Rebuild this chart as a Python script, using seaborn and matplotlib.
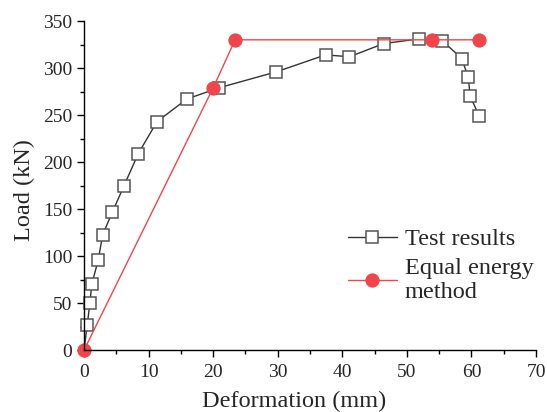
import numpy as np
import pandas as pd
import matplotlib
matplotlib.use('Agg')
import matplotlib.pyplot as plt
import seaborn as sns

# test curve
test_def = [0.0, 0.5, 0.9, 1.2, 2.2, 2.9, 4.4, 6.2, 8.4, 11.3, 15.9, 20.9, 29.8,
            37.4, 41.1, 46.4, 51.9, 55.5, 58.5, 59.5, 59.8, 61.2]
test_load = [0, 27, 50, 70, 96, 123, 147, 175, 209, 243, 267, 279, 296,
             314, 312, 326, 331, 329, 310, 290, 270, 249]

# equal energy method idealisation
eq_def = [0.0, 20.0, 23.4, 53.9, 61.2]
eq_load = [0, 279, 330, 330, 330]

sns.set_style('ticks')
plt.rcParams['font.family'] = ['Liberation Serif', 'DejaVu Serif']

fig = plt.figure(figsize=(5.47, 4.12), dpi=100)
ax = fig.add_axes([0.1536, 0.150, 0.8264, 0.799])

# origin square is hidden under the red dot in the original
sns.lineplot(x=test_def, y=test_load, sort=False, ax=ax, color='#333333', lw=1.0,
             marker='s', markersize=8.5, markerfacecolor='white',
             markeredgecolor='#555555', markeredgewidth=1.1, label='Test results',
             markevery=list(range(1, len(test_def))), clip_on=False)
sns.lineplot(x=eq_def, y=eq_load, sort=False, ax=ax, color='#f0454a', lw=1.0,
             marker='o', markersize=9.5, markerfacecolor='#f0454a',
             markeredgecolor='#f0454a', label='Equal energy\nmethod',
             clip_on=False)

ax.set_xlim(0, 70)
ax.set_ylim(0, 350)
ax.set_xticks(np.arange(0, 71, 10))
ax.set_yticks(np.arange(0, 351, 50))
ax.set_xticks(np.arange(5, 70, 10), minor=True)
ax.set_yticks(np.arange(25, 350, 50), minor=True)
ax.tick_params(which='major', direction='out', length=5, width=1, labelsize=14, color='black')
ax.tick_params(axis='x', which='major', pad=5)
ax.tick_params(which='minor', direction='out', length=3, width=1, color='black')
sns.despine(ax=ax)
for s in ['left', 'bottom']:
    ax.spines[s].set_color('black')
    ax.spines[s].set_linewidth(1.0)

ax.set_xlabel('Deformation (mm)', fontsize=17.5)
ax.set_ylabel('Load (kN)', fontsize=17.5)
ax.xaxis.set_label_coords(0.465, -0.125)
ax.yaxis.set_label_coords(-0.108, 0.486)

ax.legend(loc='upper left', bbox_to_anchor=(0.583, 0.37), frameon=False,
          fontsize=17.5, handlelength=2.05, labelspacing=0.3, handletextpad=0.3,
          borderaxespad=0, borderpad=0)

fig.savefig('out.png', dpi=100)
